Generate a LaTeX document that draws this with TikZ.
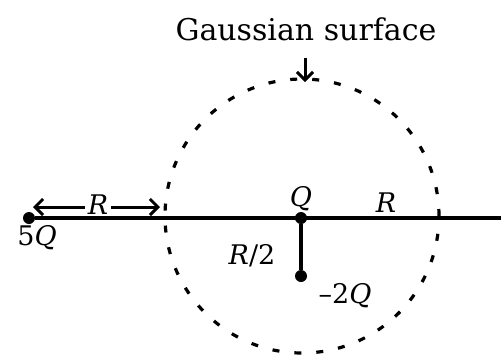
\documentclass[tikz,border=0pt]{standalone}
\usepackage{fontspec}
\setmainfont{DejaVu Serif}
\usetikzlibrary{arrows.meta}
\newcommand{\vq}{\textit{Q}}
\newcommand{\vr}{\textit{R}}
\begin{document}
\begin{tikzpicture}[x=1pt,y=-1pt,
  dot/.style={circle,fill=black,inner sep=0pt,minimum size=12pt},
  lbl/.style={inner sep=0pt,font=\fontsize{27}{32}\selectfont},
  barb/.style={-{Straight Barb[length=8pt,width=16pt,line width=3pt]},line width=3pt},
  gauss/.style={line width=3.2pt,dash pattern=on 7pt off 15pt}]
\useasboundingbox (0,0) rectangle (501,357);
% Gaussian surface
\node[gauss,draw,circle,minimum size=274pt,inner sep=0pt] (gs) at (302,216) {};
% main line
\node[dot] (fq) at (29,218) {};
\node[dot] (q) at (301,218) {};
\node[dot] (mq) at (301,276) {};
\coordinate (lineend) at (501,218);
\draw[line width=3.2pt] (fq) -- (lineend);
\draw[line width=3.2pt] (q) -- (mq);
% labels
\node[lbl,font=\fontsize{30}{34}\selectfont] (title) at (306,29) {Gaussian surface};
\coordinate (tip) at (305,82);
\coordinate (tail) at (305,58);
\draw[barb] (tail) -- (tip);
\node[lbl] (lq) at (301,199) {\vq};
\node[lbl] (l5q) at (37,238) {5\vq};
\node[lbl] (lr) at (98,205) {\vr};
\coordinate (ra) at (33,207);
\coordinate (rb) at (160,207);
\draw[barb] (lr.west) ++(-3,2) -- (ra);
\draw[barb] (lr.east) ++(3,2) -- (rb);
\node[lbl] (lr2) at (386,203) {\vr};
\node[lbl] (lhalf) at (252,256) {\vr/2};
\node[lbl] (lm2q) at (345,296) {–2\vq};
\end{tikzpicture}
\end{document}
